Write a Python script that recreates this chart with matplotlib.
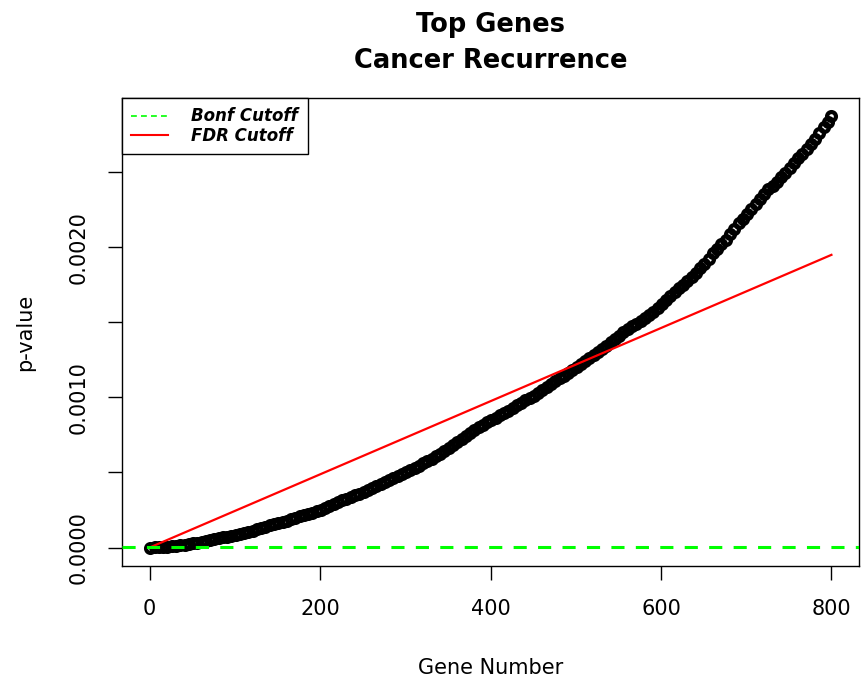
import matplotlib
matplotlib.use("Agg")
import matplotlib.pyplot as plt
from matplotlib.lines import Line2D

plt.rcParams['font.family'] = ['DejaVu Sans']

# ---- data ----
gene_rank = list(range(1, 800, 5)) + [800]
p_values_e4 = [  # p-value x 1e4
    0.00, 0.01, 0.02, 0.04, 0.06, 0.09, 0.12, 0.16, 0.20, 0.24,
    0.28, 0.33, 0.38, 0.43, 0.49, 0.55, 0.61, 0.67, 0.73, 0.78, 0.84, 0.90,
    0.97, 1.05, 1.13, 1.22, 1.30, 1.39, 1.48, 1.57, 1.65, 1.72, 1.80, 1.89,
    1.98, 2.07, 2.16, 2.25, 2.33, 2.42, 2.51,
    2.63, 2.76, 2.88, 3.01, 3.14,
    3.25, 3.37, 3.49, 3.60, 3.71, 3.83, 3.95, 4.08, 4.20,
    4.35, 4.49, 4.62, 4.76, 4.90, 5.03, 5.17, 5.31, 5.46, 5.61, 5.76, 5.90,
    6.08, 6.26, 6.45, 6.65, 6.84, 7.04, 7.23, 7.42, 7.62, 7.82, 8.00, 8.18,
    8.35, 8.50, 8.64, 8.80, 8.96, 9.13, 9.30, 9.47, 9.64, 9.80, 9.95, 10.12,
    10.32, 10.52, 10.72, 10.91, 11.10, 11.28, 11.46, 11.66, 11.86, 12.06, 12.26,
    12.46, 12.65, 12.84, 13.04, 13.24, 13.46, 13.68, 13.90,
    14.12, 14.35, 14.55, 14.73, 14.92, 15.12, 15.32, 15.52, 15.72,
    15.95, 16.22, 16.50, 16.76, 17.02, 17.28, 17.52, 17.78, 18.05, 18.32, 18.60,
    18.90, 19.25, 19.60, 19.90, 20.20, 20.52, 20.88, 21.25,
    21.60, 21.92, 22.25, 22.58, 22.90, 23.22, 23.55, 23.88,
    24.08, 24.38, 24.68, 24.98, 25.28, 25.60, 25.92, 26.25,
    26.55, 26.90, 27.25, 27.62, 28.00, 28.38, 28.77,
]
p_values = [v * 1e-4 for v in p_values_e4]

fdr_x = [1, 800]
fdr_y = [0.0000024, 0.00195]
bonf_cutoff = 0.0000024

x_ticks = [0, 200, 400, 600, 800]
x_tick_labels = ['0', '200', '400', '600', '800']
y_ticks = [0.0, 0.0005, 0.0010, 0.0015, 0.0020, 0.0025]
y_tick_labels = ['0.0000', '', '0.0010', '', '0.0020', '']

title_lines = ['Top Genes', 'Cancer Recurrence']
legend_labels = ['Bonf Cutoff', 'FDR Cutoff']

# ---- figure ----
W, H = 861, 685
fig = plt.figure(figsize=(W / 100, H / 100), dpi=100)
left, right, top, bottom = 122.3, 858.7, 98.3, 566.0
ax = fig.add_axes([left / W, 1 - bottom / H, (right - left) / W, (bottom - top) / H])

ax.plot(gene_rank, p_values, linestyle='none', marker='o', markersize=6.4,
        markerfacecolor='none', markeredgecolor='black', markeredgewidth=3.0,
        zorder=3)
ax.plot(fdr_x, fdr_y, color='#ff0000', linewidth=1.6, zorder=4)
ax.axhline(bonf_cutoff, color='#00ff00', linewidth=2.2, dashes=(4.3, 3.7), zorder=5)

ax.set_xlim(-32, 832)
ax.set_ylim(-0.000123, 0.002993)

ax.set_xticks(x_ticks)
ax.set_xticklabels(x_tick_labels, fontsize=15)
ax.set_yticks(y_ticks)
ax.set_yticklabels(y_tick_labels, fontsize=15, rotation=90, va='center')
ax.tick_params(axis='both', direction='out', length=10, width=1.0, color='black')
ax.tick_params(axis='x', pad=14)
ax.tick_params(axis='y', pad=14)

for s in ax.spines.values():
    s.set_linewidth(1.0)
    s.set_color('black')

ax.set_xlabel('Gene Number', fontsize=15)
ax.xaxis.set_label_coords(0.5, -0.197)
ax.set_ylabel('p-value', fontsize=15)
ax.yaxis.set_label_coords(-0.118, 0.5)

cx = ((left + right) / 2) / W
fig.text(cx, 1 - 32 / H, title_lines[0], ha='center', va='baseline',
         fontsize=18.5, fontweight='bold')
fig.text(cx, 1 - 68 / H, title_lines[1], ha='center', va='baseline',
         fontsize=18.5, fontweight='bold')

handles = [
    Line2D([], [], color='#00ff00', linewidth=1.2, dashes=(3.5, 2.5)),
    Line2D([], [], color='#ff0000', linewidth=1.5),
]
leg = ax.legend(handles, legend_labels, loc='upper left', borderaxespad=0,
                prop={'size': 12, 'weight': 'bold', 'style': 'italic'},
                handlelength=2.2, handletextpad=1.4, borderpad=0.55,
                labelspacing=0.1, fancybox=False, framealpha=1,
                edgecolor='black')
leg.get_frame().set_linewidth(1.0)

fig.savefig('out.png', dpi=100)
